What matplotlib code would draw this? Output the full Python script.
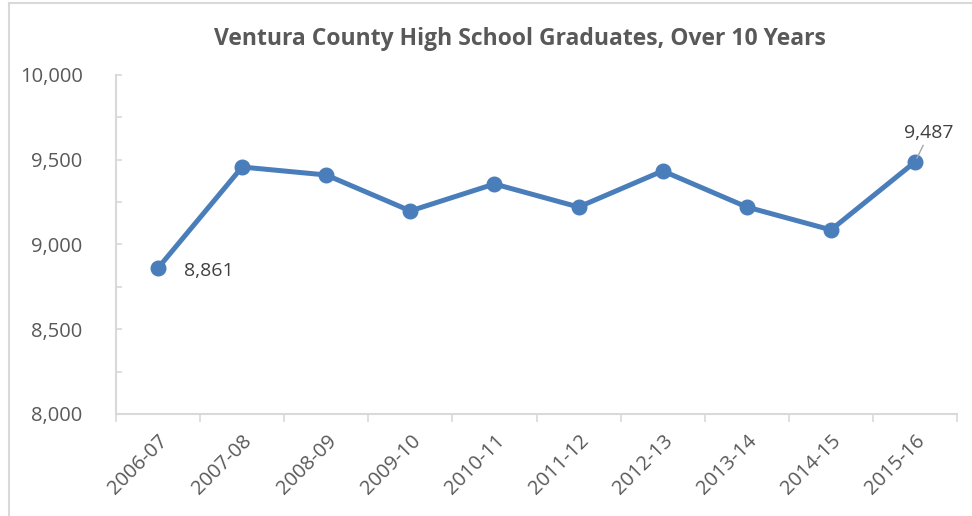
import matplotlib
matplotlib.use('Agg')
import matplotlib.pyplot as plt
from matplotlib.lines import Line2D
from matplotlib.ticker import FuncFormatter, MultipleLocator

# datos
anios = ['2006-07', '2007-08', '2008-09', '2009-10', '2010-11',
         '2011-12', '2012-13', '2013-14', '2014-15', '2015-16']
graduados = [8861, 9457, 9410, 9198, 9357, 9221, 9434, 9221, 9086, 9487]

azul = '#4A7EBB'
gris_texto = '#595959'
gris_eje = '#D9D9D9'

plt.rcParams['font.family'] = ['Open Sans', 'DejaVu Sans']

fig = plt.figure(figsize=(9.72, 5.16), dpi=100)
ax = fig.add_axes([0.1193, 0.1977, 0.8654, 0.657])

x = list(range(len(anios)))
ax.plot(x, graduados, color=azul, linewidth=3.6, marker='o', markersize=10.5,
        solid_capstyle='round', zorder=3)

ax.set_xlim(-0.5, len(anios) - 0.5)
ax.set_ylim(8000, 10000)
ax.yaxis.set_major_locator(MultipleLocator(500))
ax.yaxis.set_minor_locator(MultipleLocator(250))
ax.yaxis.set_major_formatter(FuncFormatter(lambda v, p: f'{int(v):,}'))

ax.set_xticks(x)
ax.set_xticklabels(anios, rotation=45, ha='right', rotation_mode='anchor')
ax.set_xticks([i - 0.5 for i in range(len(anios) + 1)], minor=True)
ax.tick_params(axis='x', which='major', length=0, pad=12, labelsize=14.5, labelcolor=gris_texto)
ax.tick_params(axis='x', which='minor', length=6, width=1.2, color=gris_eje, direction='out')
ax.tick_params(axis='y', which='both', length=4, width=1.2, color=gris_eje, direction='in',
               labelsize=14.5, labelcolor=gris_texto, pad=24)

for s in ['top', 'right']:
    ax.spines[s].set_visible(False)
for s in ['left', 'bottom']:
    ax.spines[s].set_color(gris_eje)
    ax.spines[s].set_linewidth(1.5)

# etiquetas de datos
ax.annotate(f'{graduados[0]:,}', xy=(x[0], graduados[0]), xytext=(19, -2),
            textcoords='offset points', fontsize=14, color='#404040', va='center')
ax.annotate(f'{graduados[-1]:,}', xy=(x[-1], graduados[-1]), xytext=(10, 14),
            textcoords='offset points', fontsize=14, color='#404040', ha='center', va='bottom',
            arrowprops=dict(arrowstyle='-', color='#A6A6A6', lw=1, shrinkA=0, shrinkB=3))

fig.text(0.535, 0.925, 'Ventura County High School Graduates, Over 10 Years',
         ha='center', va='center', fontsize=16.5, fontweight='bold', color=gris_texto)

# borde del grafico
fig.add_artist(Line2D([0.0093, 1.0], [0.9942, 0.9942], color=gris_eje, lw=1.5))
fig.add_artist(Line2D([0.0093, 0.0093], [0.0, 0.9942], color=gris_eje, lw=1.5))

fig.savefig('out.png', dpi=100)
